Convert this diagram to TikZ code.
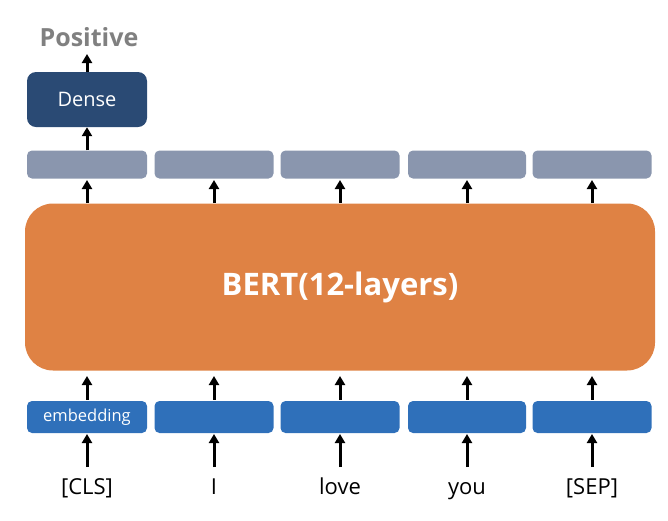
\documentclass[tikz,border=0pt]{standalone}
\usepackage{fontspec}
\setmainfont{Open Sans}
\usetikzlibrary{arrows.meta}
\definecolor{densec}{HTML}{2A4A74}
\definecolor{outc}{HTML}{8A96AE}
\definecolor{bertc}{HTML}{DF8244}
\definecolor{embc}{HTML}{2F70BA}
\definecolor{posc}{HTML}{808080}
\tikzset{
  box/.style={draw=none,rounded corners=5pt,minimum width=120pt,minimum height=28pt,inner sep=0pt},
  outbox/.style={box,fill=outc},
  embbox/.style={box,fill=embc,minimum height=32pt,text=white,font=\fontsize{16.5}{16.5}\selectfont},
  arr/.style={-{Triangle[width=10pt,length=9pt]},line width=3pt,black},
  word/.style={font=\fontsize{22}{22}\selectfont,inner sep=0pt,anchor=base}
}
\begin{document}
\begin{tikzpicture}[x=1pt,y=-1pt]
\useasboundingbox (0,0) rectangle (668,520);
% BERT
\node[draw=none,fill=bertc,rounded corners=28pt,minimum width=630pt,minimum height=167pt,inner sep=0pt,text=white,font=\bfseries\fontsize{31}{31}\selectfont] (bert) at (340,287) {BERT(12-layers)};
% dense
\node[box,fill=densec,minimum height=55pt,rounded corners=9pt,text=white,font=\fontsize{20}{20}\selectfont] (dense) at (87,99.5) {Dense};
\node[text=posc,font=\bfseries\fontsize{25}{25}\selectfont,inner sep=0pt] (pos) at (89,37) {Positive};
% columns
\foreach \i/\x/\w/\t in {1/87/120/{embedding},2/214/119/{},3/340/119/{},4/467/118/{},5/592/119/{}}{
  \node[outbox,minimum width=\w pt] (o\i) at (\x,164.5) {};
  \node[embbox,minimum width=\w pt] (e\i) at (\x,417) {\t};
}
\node[word] (w1) at (87,494) {[CLS]};
\node[word] (w2) at (214,494) {I};
\node[word] (w3) at (340,494) {love};
\node[word] (w4) at (467,494) {you};
\node[word] (w5) at (592,494) {[SEP]};
\foreach \i in {1,...,5}{
  \draw[arr] (w\i.north |- 0,467) -- (e\i.south |- 0,434);
  \draw[arr] (e\i.north) ++(0,-1) -- (e\i.north |- 0,376);
  \draw[arr] (o\i.south |- 0,203) -- (o\i.south |- 0,180);
}
\draw[arr] (o1.north) -- (dense.south);
\draw[arr] (dense.north) -- (dense.north |- 0,54);
\end{tikzpicture}
\end{document}
